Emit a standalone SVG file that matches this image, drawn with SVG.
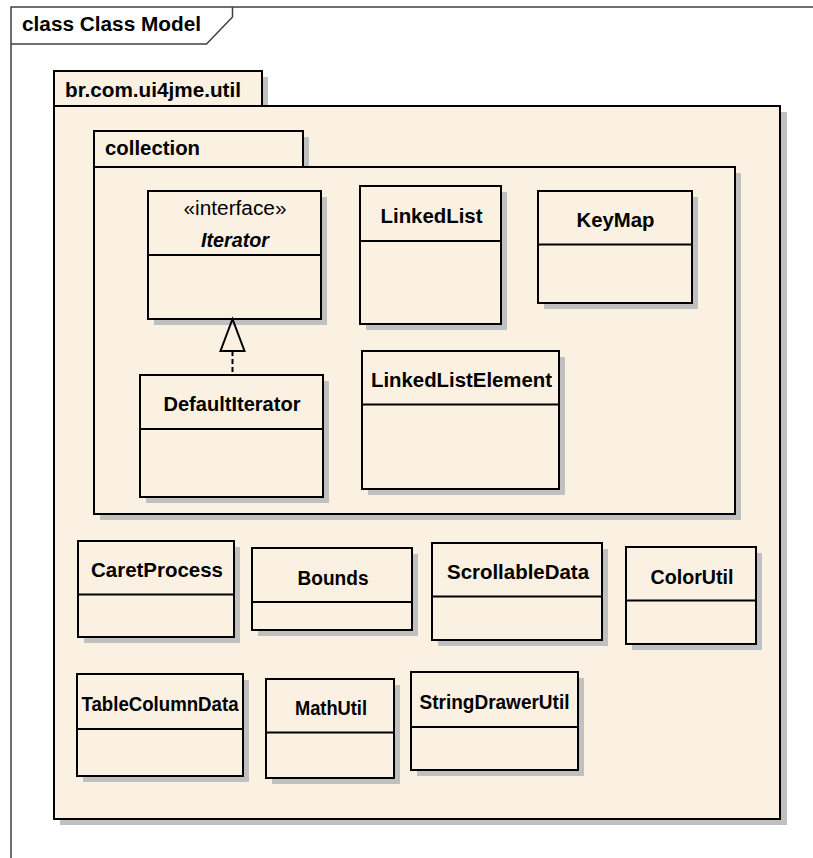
<svg xmlns="http://www.w3.org/2000/svg" width="813" height="858" viewBox="0 0 813 858">
<style>
  .bg{fill:#ffffff}
  .frame{fill:none;stroke:#404040;stroke-width:1.5}
  .pk{fill:#FBF1E3;stroke:#000;stroke-width:2}
  .cls{fill:#FBF1E3;stroke:#000;stroke-width:2}
  .sh{fill:#c0c0c0}
  .div{stroke:#000;stroke-width:2}
  .t{font-family:"Liberation Sans",Arial,sans-serif;font-size:20px;fill:#000}
  .b{font-weight:bold}
  .c{text-anchor:middle}
  .conn{fill:none;stroke:#000;stroke-width:2}
</style>
<rect class="bg" x="0" y="0" width="813" height="858"/>
<g id="frame">
  <path class="frame" d="M11,858 V7 H813"/>
  <path class="frame" d="M11,44 H206.5 L232.5,17 V7"/>
  <text class="t b" x="22" y="31" textLength="179" lengthAdjust="spacingAndGlyphs">class Class Model</text>
</g>
<g id="pkg-util">
  <rect class="sh" x="60" y="77" width="208" height="36"/>
  <rect class="sh" x="60" y="112" width="727" height="713"/>
  <rect class="pk" x="54" y="71" width="208" height="36"/>
  <rect class="pk" x="54" y="106" width="726" height="713"/>
  <text class="t b" x="65" y="97" textLength="176" lengthAdjust="spacingAndGlyphs">br.com.ui4jme.util</text>
</g>
<g id="pkg-collection">
  <rect class="sh" x="100" y="137" width="209" height="36"/>
  <rect class="sh" x="100" y="173" width="641" height="347"/>
  <rect class="pk" x="94" y="131" width="209" height="36"/>
  <rect class="pk" x="94" y="167" width="641" height="347"/>
  <text class="t b" x="105" y="155" textLength="95" lengthAdjust="spacingAndGlyphs">collection</text>
</g>
<g id="Iterator">
  <rect class="sh" x="154" y="197" width="173" height="128"/>
  <rect class="cls" x="148" y="191" width="173" height="128"/>
  <line class="div" x1="148" y1="255" x2="321" y2="255"/>
  <text class="t c" x="235" y="215" textLength="103" lengthAdjust="spacingAndGlyphs">«interface»</text>
  <text class="t b c" x="235" y="247" font-style="italic" textLength="68" lengthAdjust="spacingAndGlyphs">Iterator</text>
</g>
<g id="DefaultIterator">
  <rect class="sh" x="146" y="381" width="183" height="122"/>
  <rect class="cls" x="140" y="375" width="183" height="122"/>
  <line class="div" x1="140" y1="429" x2="323" y2="429"/>
  <text class="t b c" x="232" y="411" textLength="137" lengthAdjust="spacingAndGlyphs">DefaultIterator</text>
</g>
<g id="LinkedList">
  <rect class="sh" x="366" y="192" width="141" height="138"/>
  <rect class="cls" x="360" y="186" width="141" height="138"/>
  <line class="div" x1="360" y1="241" x2="501" y2="241"/>
  <text class="t b c" x="431.5" y="223" textLength="102" lengthAdjust="spacingAndGlyphs">LinkedList</text>
</g>
<g id="KeyMap">
  <rect class="sh" x="544" y="197" width="154" height="112"/>
  <rect class="cls" x="538" y="191" width="154" height="112"/>
  <line class="div" x1="538" y1="244.5" x2="692" y2="244.5"/>
  <text class="t b c" x="615.5" y="227" textLength="78" lengthAdjust="spacingAndGlyphs">KeyMap</text>
</g>
<g id="LinkedListElement">
  <rect class="sh" x="368" y="357" width="197" height="138"/>
  <rect class="cls" x="362" y="351" width="197" height="138"/>
  <line class="div" x1="362" y1="404.5" x2="559" y2="404.5"/>
  <text class="t b c" x="461.5" y="387" textLength="181" lengthAdjust="spacingAndGlyphs">LinkedListElement</text>
</g>
<g id="CaretProcess">
  <rect class="sh" x="84" y="547" width="156" height="96"/>
  <rect class="cls" x="78" y="541" width="156" height="96"/>
  <line class="div" x1="78" y1="594.5" x2="234" y2="594.5"/>
  <text class="t b c" x="157" y="577" textLength="132" lengthAdjust="spacingAndGlyphs">CaretProcess</text>
</g>
<g id="Bounds">
  <rect class="sh" x="258" y="554" width="160" height="82"/>
  <rect class="cls" x="252" y="548" width="160" height="82"/>
  <line class="div" x1="252" y1="602" x2="412" y2="602"/>
  <text class="t b c" x="333" y="584.5" textLength="71" lengthAdjust="spacingAndGlyphs">Bounds</text>
</g>
<g id="ScrollableData">
  <rect class="sh" x="438" y="549" width="170" height="97"/>
  <rect class="cls" x="432" y="543" width="170" height="97"/>
  <line class="div" x1="432" y1="596.5" x2="602" y2="596.5"/>
  <text class="t b c" x="518" y="579" textLength="142" lengthAdjust="spacingAndGlyphs">ScrollableData</text>
</g>
<g id="ColorUtil">
  <rect class="sh" x="632" y="553" width="130" height="97"/>
  <rect class="cls" x="626" y="547" width="130" height="97"/>
  <line class="div" x1="626" y1="600.5" x2="756" y2="600.5"/>
  <text class="t b c" x="692" y="583.5" textLength="83" lengthAdjust="spacingAndGlyphs">ColorUtil</text>
</g>
<g id="TableColumnData">
  <rect class="sh" x="83" y="680" width="166" height="102"/>
  <rect class="cls" x="77" y="674" width="166" height="102"/>
  <line class="div" x1="77" y1="729" x2="243" y2="729"/>
  <text class="t b c" x="160" y="711" textLength="157" lengthAdjust="spacingAndGlyphs">TableColumnData</text>
</g>
<g id="MathUtil">
  <rect class="sh" x="272" y="685" width="128" height="99"/>
  <rect class="cls" x="266" y="679" width="128" height="99"/>
  <line class="div" x1="266" y1="732.5" x2="394" y2="732.5"/>
  <text class="t b c" x="331" y="715" textLength="72" lengthAdjust="spacingAndGlyphs">MathUtil</text>
</g>
<g id="StringDrawerUtil">
  <rect class="sh" x="417" y="678" width="167" height="98"/>
  <rect class="cls" x="411" y="672" width="167" height="98"/>
  <line class="div" x1="411" y1="727" x2="578" y2="727"/>
  <text class="t b c" x="494.5" y="709" textLength="150" lengthAdjust="spacingAndGlyphs">StringDrawerUtil</text>
</g>
<g id="connectors">
  <line class="conn" x1="232.5" y1="351" x2="232.5" y2="375" stroke-dasharray="5,3"/>
  <polygon class="conn" points="232.5,319 220.5,351 244.5,351" fill="#FBF1E3"/>
</g>
</svg>
